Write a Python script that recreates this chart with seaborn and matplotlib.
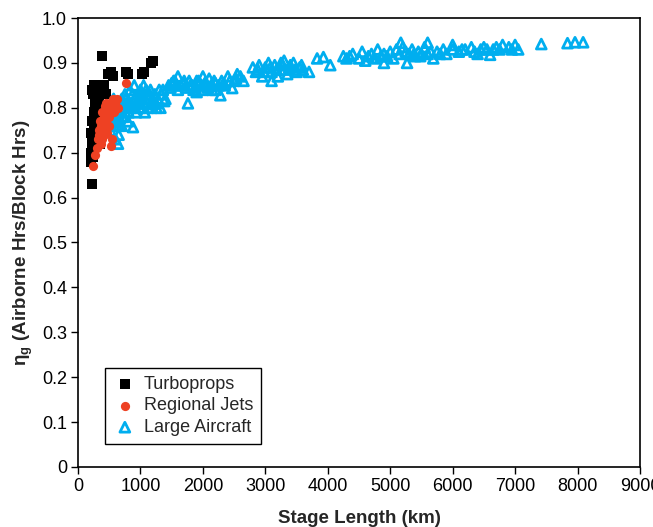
"""
Ground efficiency vs stage length for three aircraft classes.
"""
import matplotlib
matplotlib.use("Agg")
import matplotlib.pyplot as plt
import numpy as np
import pandas as pd
import seaborn as sns

# Turboprops (stage length km, eta_g)
turbo_x = [225, 200, 210, 230, 250, 200, 260, 280, 230, 300, 250, 320, 270, 340,
           300, 220, 260, 240, 280, 350, 230, 290, 310, 400, 420, 450, 380, 480,
           530, 560, 770, 800, 1020, 1050, 1170, 1200, 350, 240, 330, 370, 410]
turbo_y = [0.63, 0.68, 0.70, 0.72, 0.74, 0.745, 0.75, 0.76, 0.77, 0.78, 0.79, 0.80,
           0.81, 0.82, 0.83, 0.84, 0.85, 0.83, 0.80, 0.79, 0.73, 0.77, 0.75, 0.84,
           0.85, 0.83, 0.915, 0.875, 0.88, 0.87, 0.88, 0.875, 0.875, 0.88, 0.90,
           0.905, 0.72, 0.69, 0.81, 0.80, 0.78]

# Regional jets
rj_x = [240, 270, 300, 320, 340, 360, 380, 400, 350, 420, 440, 460, 480, 500,
        520, 540, 560, 600, 620, 450, 380, 410, 330, 530, 550, 500, 470, 580,
        640, 770, 430, 390, 360]
rj_y = [0.67, 0.695, 0.71, 0.73, 0.74, 0.72, 0.75, 0.76, 0.77, 0.78, 0.77, 0.79,
        0.80, 0.78, 0.81, 0.80, 0.82, 0.81, 0.82, 0.81, 0.79, 0.74, 0.75, 0.715,
        0.73, 0.76, 0.745, 0.79, 0.80, 0.855, 0.805, 0.73, 0.76]

# Large aircraft
large_x = [480, 500, 520, 550, 570, 600, 620, 640, 650, 680, 700, 720, 750, 780,
           800, 830, 850, 880, 900, 930, 950, 980, 1000, 1030, 1070, 1100, 1130,
           1160, 1200, 1230, 1280, 1320, 1360, 1400, 550, 700, 760, 900, 600, 1050,
           1180,
           530, 580, 610, 660, 690, 730, 770, 810, 840, 870, 920, 960, 990, 1010,
           1060, 1090, 1120, 1150, 1190, 1250, 1300, 1340, 1380, 660, 740, 820,
           960, 1080, 1260,
           1450, 1500, 1550, 1600, 1650, 1700, 1760, 1800, 1850, 1900, 1950, 2000,
           2050, 2100, 2150, 2200, 2280, 2300, 2350, 2400, 2470, 2500, 2550, 2600,
           2650, 1600, 1900, 2000, 2200,
           1480, 1530, 1580, 1680, 1730, 1780, 1830, 1880, 1930, 1980, 2030, 2080,
           2130, 2180, 2250, 2330, 2430, 2530,
           2800, 2850, 2900, 2950, 3000, 3050, 3100, 3150, 3200, 3250, 3300, 3350,
           3400, 3450, 3500, 3550, 3600, 3700, 3830, 3930, 4040, 3100, 3300,
           2880, 2980, 3080, 3180, 3280, 3380, 3480, 3580,
           4250, 4300, 4400, 4500, 4550, 4600, 4700, 4750, 4800, 4850, 4900, 5000,
           5050, 5100, 5170, 5200, 5270, 5300, 5350, 5400, 5450, 5500, 5550, 5600,
           5690, 5750, 5850, 5900, 6000, 6100, 6200, 6300, 6400, 6450, 6500, 6600,
           6650, 6700, 6800, 6900, 7000, 7050, 4900, 5600, 6000,
           4350, 4650, 4950, 5150, 5250, 5380, 5480, 5650, 5800, 6150, 6350, 6550,
           6750, 6950,
           7420, 7840, 7960, 8090]
large_y = [0.80, 0.77, 0.75, 0.78, 0.82, 0.79, 0.76, 0.72, 0.74, 0.80, 0.82, 0.78,
           0.83, 0.81, 0.77, 0.84, 0.80, 0.757, 0.82, 0.79, 0.83, 0.81, 0.84, 0.80,
           0.79, 0.83, 0.82, 0.84, 0.81, 0.83, 0.82, 0.80, 0.84, 0.82, 0.81, 0.76,
           0.79, 0.85, 0.73, 0.85, 0.80,
           0.79, 0.81, 0.77, 0.78, 0.81, 0.80, 0.82, 0.79, 0.81, 0.83, 0.80, 0.82,
           0.80, 0.83, 0.81, 0.84, 0.80, 0.83, 0.82, 0.81, 0.84, 0.83, 0.815, 0.76,
           0.78, 0.80, 0.81, 0.82, 0.80,
           0.85, 0.855, 0.86, 0.84, 0.85, 0.86, 0.81, 0.85, 0.84, 0.86, 0.855, 0.84,
           0.85, 0.865, 0.84, 0.855, 0.828, 0.86, 0.85, 0.87, 0.844, 0.86, 0.875,
           0.87, 0.86, 0.87, 0.835, 0.87, 0.84,
           0.845, 0.86, 0.85, 0.855, 0.845, 0.86, 0.85, 0.845, 0.86, 0.85, 0.855,
           0.845, 0.85, 0.86, 0.85, 0.855, 0.86, 0.865,
           0.89, 0.88, 0.895, 0.87, 0.89, 0.90, 0.88, 0.895, 0.87, 0.90, 0.885,
           0.875, 0.895, 0.90, 0.88, 0.89, 0.885, 0.88, 0.91, 0.913, 0.895, 0.86,
           0.905,
           0.885, 0.88, 0.89, 0.885, 0.895, 0.89, 0.885, 0.895,
           0.915, 0.91, 0.92, 0.91, 0.925, 0.905, 0.92, 0.91, 0.93, 0.915, 0.92,
           0.925, 0.91, 0.93, 0.945, 0.935, 0.90, 0.92, 0.93, 0.915, 0.925, 0.92,
           0.935, 0.92, 0.91, 0.925, 0.93, 0.92, 0.93, 0.925, 0.93, 0.935, 0.92,
           0.93, 0.935, 0.918, 0.93, 0.935, 0.94, 0.935, 0.94, 0.93, 0.90, 0.945,
           0.94,
           0.915, 0.915, 0.915, 0.92, 0.925, 0.92, 0.915, 0.925, 0.92, 0.93, 0.925,
           0.93, 0.93, 0.93,
           0.942, 0.944, 0.946, 0.946]

x_ticks = list(range(0, 9001, 1000))
y_ticks = [0, 0.1, 0.2, 0.3, 0.4, 0.5, 0.6, 0.7, 0.8, 0.9, 1.0]
y_tick_labels = ["0", "0.1", "0.2", "0.3", "0.4", "0.5", "0.6", "0.7", "0.8", "0.9", "1.0"]

sns.set_style("ticks")
plt.rcParams["font.family"] = ["Liberation Sans", "DejaVu Sans"]
plt.rcParams["mathtext.fontset"] = "custom"
plt.rcParams["mathtext.rm"] = "Liberation Sans"
plt.rcParams["mathtext.bf"] = "Liberation Sans:bold"

fig = plt.figure(figsize=(6.53, 5.27), dpi=100)
ax = fig.add_axes([0.1195, 0.1139, 0.8605, 0.8519])

turbo_df = pd.DataFrame({"x": turbo_x, "y": turbo_y})
rj_df = pd.DataFrame({"x": rj_x, "y": rj_y})
large_df = pd.DataFrame({"x": large_x, "y": large_y})

sns.scatterplot(data=turbo_df, x="x", y="y", marker="s", s=52, color="black",
                edgecolor="black", linewidth=0, label="Turboprops", ax=ax, zorder=2)
sns.scatterplot(data=large_df, x="x", y="y", marker="^", s=50, facecolor="none",
                edgecolor="#00AEEF", linewidth=2.0, label="Large Aircraft", ax=ax, zorder=3)
sns.scatterplot(data=rj_df, x="x", y="y", marker="o", s=44, color="#EE4123",
                edgecolor="#EE4123", linewidth=0, label="Regional Jets", ax=ax, zorder=4)

ax.set_xlim(0, 9000)
ax.set_ylim(0, 1.0)
ax.set_xticks(x_ticks)
ax.set_yticks(y_ticks)
ax.set_yticklabels(y_tick_labels)
ax.tick_params(axis="both", direction="out", length=5, width=1, labelsize=13,
               colors="black", pad=3)
for side in ["top", "right", "bottom", "left"]:
    ax.spines[side].set_visible(True)
    ax.spines[side].set_color("black")
    ax.spines[side].set_linewidth(1.2)

ax.set_xlabel("Stage Length (km)", fontsize=13.5, fontweight="bold", labelpad=11)
ax.set_ylabel(r"η$_{\mathbf{g}}$ (Airborne Hrs/Block Hrs)", fontsize=13.5,
              fontweight="bold", labelpad=5)

handles, labels = ax.get_legend_handles_labels()
order = [labels.index(n) for n in ["Turboprops", "Regional Jets", "Large Aircraft"]]
leg = ax.legend([handles[i] for i in order], [labels[i] for i in order],
                loc="lower left", bbox_to_anchor=(0.048, 0.051), borderaxespad=0,
                fontsize=13, frameon=True, fancybox=False, edgecolor="black",
                framealpha=1, handletextpad=0.4, borderpad=0.45,
                labelspacing=0.25, handlelength=1.3)
leg.get_frame().set_linewidth(1.0)

fig.savefig("out.png", dpi=100)
